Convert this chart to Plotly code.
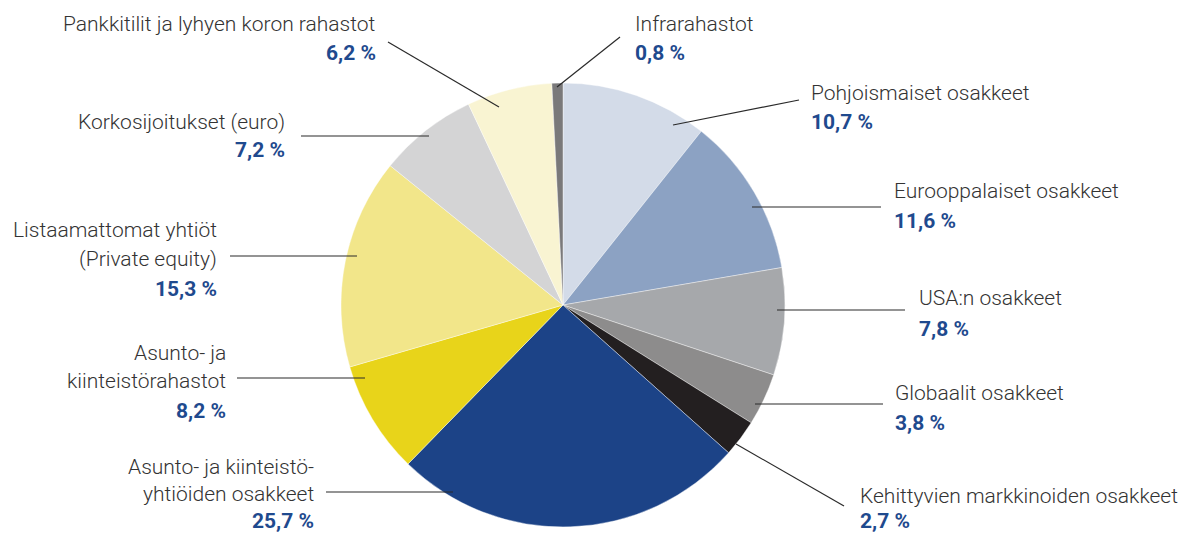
import plotly.graph_objects as go

W, H = 1184, 534

# ---- data ----
names = [
    ["Pohjoismaiset osakkeet"],
    ["Eurooppalaiset osakkeet"],
    ["USA:n osakkeet"],
    ["Globaalit osakkeet"],
    ["Kehittyvien markkinoiden osakkeet"],
    ["Asunto- ja kiinteistö-", "yhtiöiden osakkeet"],
    ["Asunto- ja", "kiinteistörahastot"],
    ["Listaamattomat yhtiöt", "(Private equity)"],
    ["Korkosijoitukset (euro)"],
    ["Pankkitilit ja lyhyen koron rahastot"],
    ["Infrarahastot"],
]
values = [10.7, 11.6, 7.8, 3.8, 2.7, 25.7, 8.2, 15.3, 7.2, 6.2, 0.8]
colors = ["#d3dbe8", "#8ca2c3", "#a6a8ab", "#8d8c8c", "#231f20", "#1c4387",
          "#e8d41a", "#f2e68a", "#d4d4d5", "#f9f4d2", "#7a797a"]

# ---- label layout (pixels): anchor x, side, name line ys, pct y, leader (x0,y0,x1,y1) ----
label_layout = [
    (809, "left", [93], 122, (799, 100, 673, 125)),
    (892, "left", [191], 221, (881, 207, 752, 207)),
    (917, "left", [298], 329, (905, 310, 777, 310)),
    (893, "left", [393], 423, (883, 404, 755, 404)),
    (858, "left", [496], 521, (844, 506, 736, 444)),
    (316, "right", [467, 494], 521, (326, 492, 453, 492)),
    (228, "right", [353, 381], 411, (237, 378, 365, 378)),
    (219, "right", [230, 259], 289, (230, 256, 357, 256)),
    (287, "right", [122], 150, (301, 136, 429, 136)),
    (378, "right", [24], 53, (388, 42, 499, 107)),
    (633, "left", [24], 53, (620, 37, 557, 87)),
]

CX, CY, R = 563, 305, 222

def px(x):
    return x / W

def py(y):
    return 1 - y / H

fig = go.Figure(go.Pie(
    values=values,
    labels=[" ".join(n) for n in names],
    marker=dict(colors=colors, line=dict(color="white", width=0.4)),
    sort=False,
    direction="clockwise",
    rotation=0,
    textinfo="none",
    hoverinfo="label+value",
    showlegend=False,
    domain=dict(x=[px(CX - R), px(CX + R)], y=[py(CY + R), py(CY - R)]),
))

annotations = []
shapes = []
label_color = "#333333"
pct_color = "#1f4a8e"
FS = 21
FS_PCT = 21
for name_lines, v, (ax, side, ys, pyv, ln) in zip(names, values, label_layout):
    for t, y in zip(name_lines, ys):
        annotations.append(dict(
            x=px(ax), y=py(y), xref="paper", yref="paper", text=t,
            showarrow=False, xanchor=side, yanchor="middle",
            font=dict(family="Roboto", size=FS, color=label_color, weight=300),
        ))
    pct = f"{v:.1f}".replace(".", ",") + " %"
    annotations.append(dict(
        x=px(ax), y=py(pyv), xref="paper", yref="paper", text=pct,
        showarrow=False, xanchor=side, yanchor="middle",
        font=dict(family="Roboto", size=FS_PCT, color=pct_color, weight=700),
    ))
    x0, y0, x1, y1 = ln
    shapes.append(dict(type="line", xref="paper", yref="paper",
                       x0=px(x0), y0=py(y0), x1=px(x1), y1=py(y1),
                       line=dict(color="#2a2a2a", width=1.2)))

fig.update_layout(
    width=W, height=H,
    margin=dict(l=0, r=0, t=0, b=0),
    paper_bgcolor="white", plot_bgcolor="white",
    annotations=annotations, shapes=shapes,
)

fig.write_html(
    "out.html",
    config={"displayModeBar": False},
    post_script="document.body.style.margin='0';document.body.style.overflow='hidden';",
)
